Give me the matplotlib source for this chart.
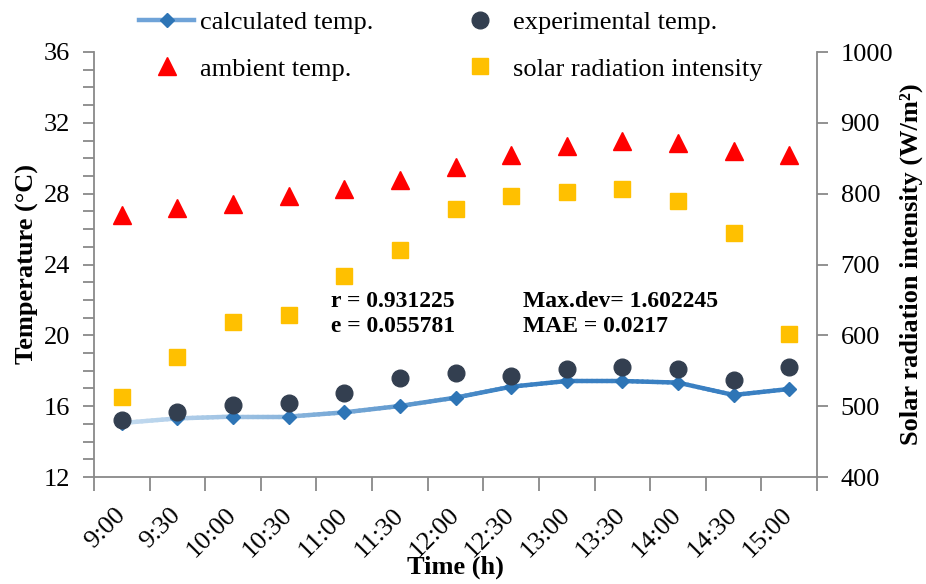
import numpy as np
import matplotlib
matplotlib.use("Agg")
import matplotlib.pyplot as plt
from matplotlib.collections import LineCollection
from matplotlib.colors import to_rgb
from matplotlib.lines import Line2D

plt.rcParams['font.family'] = ['Liberation Serif', 'DejaVu Serif']

# Time of day (categories)
times = ["9:00", "9:30", "10:00", "10:30", "11:00", "11:30", "12:00",
         "12:30", "13:00", "13:30", "14:00", "14:30", "15:00"]

# Temperatures (°C)
calculated_temp = [15.05, 15.31, 15.41, 15.41, 15.65, 16.01, 16.48,
                   17.10, 17.42, 17.42, 17.33, 16.63, 16.97]
experimental_temp = [15.20, 15.69, 16.07, 16.20, 16.73, 17.61, 17.86,
                     17.71, 18.08, 18.20, 18.08, 17.48, 18.20]
ambient_temp = [26.78, 27.18, 27.44, 27.89, 28.28, 28.79, 29.50,
                30.19, 30.68, 30.98, 30.87, 30.40, 30.19]

# Solar radiation intensity (W/m²)
solar_radiation = [513, 569, 619, 629, 684, 720, 778,
                   797, 802, 806, 790, 745, 602]

C_CALC = "#2E75B6"
C_CALC_LIGHT = "#C5DCF0"
C_EXP = "#333F50"
C_AMB = "#FF0000"
C_SOLAR = "#FFC000"
C_AXIS = "#898989"

fig = plt.figure(figsize=(9.26, 5.84), dpi=100)
ax = fig.add_axes([94 / 926, 1 - 477 / 584, (817 - 94) / 926, (477 - 52) / 584])
ax2 = ax.twinx()

n = len(times)
x = np.arange(n) + 0.5

# Calculated temperature: line with a colour ramp from light to dark blue;
# each segment is split so the colour changes smoothly along it
xs, ys = [], []
for i in range(n - 1):
    t = np.linspace(0, 1, 12)
    xs.append(x[i] + (x[i + 1] - x[i]) * t)
    ys.append(calculated_temp[i] + (calculated_temp[i + 1] - calculated_temp[i]) * t)
xs = np.concatenate(xs)
ys = np.concatenate(ys)
pts = np.column_stack([xs, ys]).reshape(-1, 1, 2)
segs = np.concatenate([pts[:-1], pts[1:]], axis=1)
frac = np.clip((segs[:, 0, 0] - x[0]) / (x[7] - x[0]), 0, 1)
c0, c1 = np.array(to_rgb(C_CALC_LIGHT)), np.array(to_rgb("#3A80C2"))
cols = c0[None, :] * (1 - frac[:, None]) + c1[None, :] * frac[:, None]
lc = LineCollection(segs, colors=cols, linewidths=3.2, capstyle='round', zorder=2)
ax.add_collection(lc)
ax.plot(x, calculated_temp, linestyle='none', marker='D', ms=6.8,
        color=C_CALC, zorder=3)

ax.plot(x, experimental_temp, linestyle='none', marker='o', ms=12,
        color=C_EXP, zorder=4)
ax.plot(x, ambient_temp, linestyle='none', marker='^', ms=12.5,
        color=C_AMB, zorder=4)
ax2.plot(x, solar_radiation, linestyle='none', marker='s', ms=12,
         color=C_SOLAR, zorder=4)

# Axes ranges and ticks
ax.set_xlim(0, n)
ax.set_ylim(12, 36)
ax2.set_ylim(400, 1000)
ax.set_yticks(np.arange(12, 37, 4))
ax.set_yticks(np.arange(12, 37, 1), minor=True)
ax2.set_yticks(np.arange(400, 1001, 100))

ax.set_xticks(np.arange(0, n + 1))
ax.set_xticklabels([])
ax.set_xticks(x, minor=True)
ax.set_xticklabels(times, minor=True, rotation=45, ha='right', va='center',
                   rotation_mode='anchor', fontsize=19)
ax.tick_params(axis='x', which='minor', length=0, pad=25)
ax.tick_params(axis='x', which='major', length=10, width=1.3, color=C_AXIS,
               direction='out')
ax.tick_params(axis='y', which='major', length=8, width=1.3, color=C_AXIS,
               labelsize=19, pad=9)
ax.tick_params(axis='y', which='minor', length=8, width=1.3, color=C_AXIS)
ax2.tick_params(axis='y', which='major', length=8, width=1.3, color=C_AXIS,
                labelsize=19, pad=9)

for a in (ax, ax2):
    a.spines['top'].set_visible(False)
    for s in ('left', 'right', 'bottom'):
        a.spines[s].set_color(C_AXIS)
        a.spines[s].set_linewidth(1.3)
ax.spines['right'].set_visible(False)
ax2.spines['left'].set_visible(False)
ax2.spines['bottom'].set_visible(False)

ax.set_xlabel("Time (h)", fontsize=19, fontweight='bold')
ax.set_ylabel("Temperature (°C)", fontsize=19, fontweight='bold')
ax2.set_ylabel("Solar radiation intensity (W/m²)", fontsize=19, fontweight='bold')
ax.xaxis.set_label_coords(0.5, -0.186)
ax.yaxis.set_label_coords(-0.076, 0.5)
ax2.yaxis.set_label_coords(1.114, 0.5)

# Goodness-of-fit statistics
stat_kw = dict(transform=ax.transAxes, fontsize=17, fontweight='bold',
               va='center', ha='left', zorder=5)
ax.text(0.328, 0.413, "r = 0.931225", **stat_kw)
ax.text(0.328, 0.355, "e = 0.055781", **stat_kw)
ax.text(0.593, 0.413, "Max.dev= 1.602245", **stat_kw)
ax.text(0.593, 0.355, "MAE = 0.0217", **stat_kw)

# Legend
h_calc = Line2D([], [], color="#6FA3D8", lw=3.2, marker='D', ms=6.8,
                markerfacecolor=C_CALC, markeredgecolor=C_CALC)
h_exp = Line2D([], [], linestyle='none', marker='o', ms=12, color=C_EXP)
h_amb = Line2D([], [], linestyle='none', marker='^', ms=12.5, color=C_AMB)
h_sol = Line2D([], [], linestyle='none', marker='s', ms=12, color=C_SOLAR)
fig.legend([h_calc, h_amb, h_exp, h_sol],
           ["calculated temp.", "ambient temp.", "experimental temp.",
            "solar radiation intensity"],
           ncol=2, loc='upper left', bbox_to_anchor=(139 / 926, 1 - 11 / 584),
           frameon=False, fontsize=19, handlelength=2.1, handletextpad=0.2,
           columnspacing=3.02, labelspacing=0.86, borderpad=0, borderaxespad=0)

fig.savefig("out.png", dpi=100)
